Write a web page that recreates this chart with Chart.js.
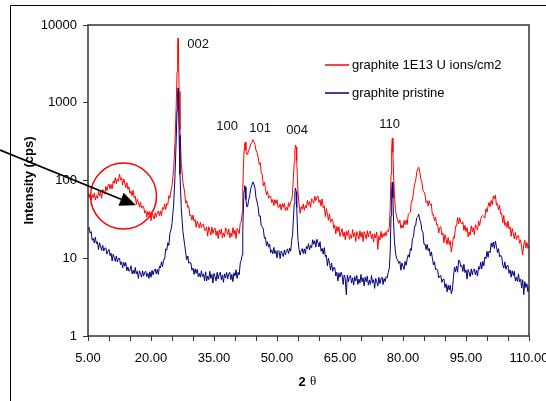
<!DOCTYPE html>
<html>
<head>
<meta charset="utf-8">
<script src="https://cdn.jsdelivr.net/npm/chart.js@4.4.1/dist/chart.umd.min.js"></script>
<style>
  html, body { margin: 0; padding: 0; background: #fff; }
  #wrap { width: 546px; height: 401px; position: relative; }
</style>
</head>
<body>
<div id="wrap"><canvas id="xrd"></canvas></div>
<script>
// 2 theta (deg), finer steps around the sharp peaks
const twoTheta = [
  5.0, 5.25, 5.5, 5.75, 6.0, 6.25, 6.5, 6.75, 7.0, 7.25, 7.5, 7.75, 8.0, 8.25, 8.5, 8.75, 9.0, 9.25, 9.5, 9.75,
  10.0, 10.25, 10.5, 10.75, 11.0, 11.25, 11.5, 11.75, 12.0, 12.25, 12.5, 12.75, 13.0, 13.25, 13.5, 13.75, 14.0, 14.25, 14.5, 14.75,
  15.0, 15.25, 15.5, 15.75, 16.0, 16.25, 16.5, 16.75, 17.0, 17.25, 17.5, 17.75, 18.0, 18.25, 18.5, 18.75, 19.0, 19.25, 19.5, 19.75,
  20.0, 20.25, 20.5, 20.75, 21.0, 21.25, 21.5, 21.75, 22.0, 22.25, 22.5, 22.75, 23.0, 23.25, 23.5, 23.75, 24.0, 24.25, 24.5, 24.75,
  25.0,
  25.4, 25.7, 26.0, 26.2, 26.35, 26.45, 26.55, 26.7, 26.9, 27.2, 27.6,
  28.0, 28.25, 28.5, 28.75, 29.0, 29.25, 29.5, 29.75, 30.0, 30.25, 30.5, 30.75, 31.0, 31.25, 31.5, 31.75, 32.0, 32.25, 32.5, 32.75,
  33.0, 33.25, 33.5, 33.75, 34.0, 34.25, 34.5, 34.75, 35.0, 35.25, 35.5, 35.75, 36.0, 36.25, 36.5, 36.75, 37.0, 37.25, 37.5, 37.75,
  38.0, 38.25, 38.5, 38.75, 39.0, 39.25, 39.5, 39.75, 40.0, 40.25, 40.5, 40.75, 41.0, 41.25, 41.5,
  41.7, 41.85, 42.0, 42.15, 42.3, 42.45, 42.6, 42.8, 43.0, 43.25, 43.5, 43.75, 44.0, 44.25, 44.5, 44.75, 45.0, 45.25,
  45.5, 45.75, 46.0, 46.25, 46.5, 46.75, 47.0, 47.25, 47.5, 47.75, 48.0, 48.25, 48.5, 48.75, 49.0, 49.25, 49.5, 49.75, 50.0, 50.25,
  50.5, 50.75, 51.0, 51.25, 51.5, 51.75, 52.0, 52.25, 52.5, 52.75, 53.0, 53.25, 53.5,
  53.7, 53.9, 54.1, 54.25, 54.4, 54.55, 54.7, 54.85, 55.0, 55.25,
  55.5, 55.75, 56.0, 56.25, 56.5, 56.75, 57.0, 57.25, 57.5, 57.75, 58.0, 58.25, 58.5, 58.75, 59.0, 59.25, 59.5, 59.75, 60.0, 60.25,
  60.5, 60.75, 61.0, 61.25, 61.5, 61.75, 62.0, 62.25, 62.5, 62.75, 63.0, 63.25, 63.5, 63.75, 64.0, 64.25, 64.5, 64.75, 65.0, 65.25,
  65.5, 65.75, 66.0, 66.25, 66.5, 66.75, 67.0, 67.25, 67.5, 67.75, 68.0, 68.25, 68.5, 68.75, 69.0, 69.25, 69.5, 69.75, 70.0, 70.25,
  70.5, 70.75, 71.0, 71.25, 71.5, 71.75, 72.0, 72.25, 72.5, 72.75, 73.0, 73.25, 73.5, 73.75, 74.0, 74.25, 74.5, 74.75, 75.0, 75.25,
  75.5, 75.75, 76.0, 76.25, 76.5,
  76.75, 76.95, 77.15, 77.3, 77.45, 77.6, 77.75, 77.95, 78.2, 78.45, 78.7,
  79.0, 79.25, 79.5, 79.75, 80.0, 80.25, 80.5, 80.75, 81.0, 81.25, 81.5, 81.75, 82.0, 82.25, 82.5, 82.75, 83.0, 83.25, 83.5, 83.75,
  84.0, 84.25, 84.5, 84.75, 85.0, 85.25, 85.5, 85.75, 86.0, 86.25, 86.5, 86.75, 87.0, 87.25, 87.5, 87.75, 88.0, 88.25, 88.5, 88.75,
  89.0, 89.25, 89.5, 89.75, 90.0, 90.25, 90.5, 90.75, 91.0, 91.25, 91.5, 91.75, 92.0, 92.25, 92.5, 92.75, 93.0, 93.25, 93.5, 93.75,
  94.0, 94.25, 94.5, 94.75, 95.0, 95.25, 95.5, 95.75, 96.0, 96.25, 96.5, 96.75, 97.0, 97.25, 97.5, 97.75, 98.0, 98.25, 98.5, 98.75,
  99.0, 99.25, 99.5, 99.75, 100.0, 100.25, 100.5, 100.75, 101.0, 101.25, 101.5, 101.75, 102.0, 102.25, 102.5, 102.75, 103.0, 103.25, 103.5, 103.75,
  104.0, 104.25, 104.5, 104.75, 105.0, 105.25, 105.5, 105.75, 106.0, 106.25, 106.5, 106.75, 107.0, 107.25, 107.5, 107.75, 108.0, 108.25, 108.5, 108.75,
  109.0, 109.25, 109.5, 109.75, 110.0
];

// intensity (cps), irradiated sample
const irradiated = [
  72, 60, 67, 56, 66, 60, 69, 56, 64, 59, 73, 63, 71, 59, 77, 72, 67, 84, 74, 85,
  90, 78, 89, 78, 98, 92, 109, 91, 105, 98, 121, 102, 109, 87, 105, 93, 81, 94, 77, 83,
  68, 73, 63, 75, 60, 63, 49, 58, 52, 45.5, 53, 44, 47, 46, 38, 41, 34, 40, 36, 40,
  30.5, 38, 35, 32, 38.5, 33.7, 38, 40.7, 35.3, 40.6, 35.2, 45, 42.7, 50, 42.3, 50.5, 48.8, 64, 59.5, 73.5,
  85,
  140, 300, 900, 2500, 5000, 6800, 4000, 1400, 450, 170, 95,
  71, 51, 55, 45, 47, 35, 36, 31, 36, 30, 31.5, 25, 30, 27.5, 24.6, 29, 24.7, 27, 27.5, 22.8,
  22.8, 25.2, 19.2, 25.4, 22.8, 19.8, 25.2, 20.7, 23.7, 24.5, 19.6, 22.5, 17.9, 23.1, 20.3, 23.9, 18.3, 21.2, 18.9, 24.6,
  22.9, 20.2, 23.9, 18.3, 21.2, 18.9, 24.8, 20.3, 23, 17.9, 24.2, 22.5, 20.7, 28, 30,
  38, 78, 138, 245, 295, 312, 245, 218, 216, 245, 260, 295, 305, 335, 318, 292, 245, 228,
  202, 161, 170, 125, 119, 85, 95, 79, 65.5, 72.6, 59, 62.5, 62.7, 52, 57, 47.5, 56.7, 50.4, 56.6, 45,
  45.6, 49.9, 41.8, 50.3, 45.1, 51, 41, 45.5, 41.4, 52, 46, 53.5, 55,
  70, 110, 170, 240, 285, 270, 180, 110, 70, 50,
  37.8, 46, 42.7, 50, 41.4, 47.5, 44.2, 55.4, 48, 53.6, 45.2, 58.3, 55, 51, 62.7, 55.1, 61.5, 63.3, 52.1, 56.2,
  46.8, 57.9, 44.7, 47.4, 34.4, 43.5, 37, 30.8, 37.3, 29, 31.9, 31.6, 24.3, 26.8, 20.6, 25.7, 22.1, 25.5, 19.1, 21.8,
  24.1, 19.1, 21.8, 17.3, 22.2, 19.5, 23, 17.5, 20.2, 18, 23.4, 19, 21.3, 16.4, 22, 20, 17.6, 22.6, 18.7, 21.6,
  16.4, 22, 20, 17.6, 22.6, 18.7, 21.6, 22.4, 17.8, 20.4, 16.1, 20.7, 18.2, 21.7, 13, 19.2, 17.1, 22.2, 18.2, 20.7,
  19.1, 21.5, 19.5, 22.8, 22,
  25, 45, 120, 260, 350, 230, 120, 65, 42, 35, 31,
  28.1, 31.1, 24.3, 26.8, 24.4, 30.5, 26.9, 31, 27.1, 36.7, 38, 39.1, 55, 55.1, 72, 90, 98, 125, 140, 148,
  130, 104, 96, 74, 71, 66, 52, 55, 47, 55, 48.5, 50, 36, 36.4, 30.4, 33.9, 26.9, 27.3, 21.1, 24.8,
  25.5, 20, 21.2, 15.8, 20.1, 17.6, 15.1, 18.5, 15, 16.8, 12, 14.7, 18.9, 18.1, 25.9, 25.9, 33.3, 27.7, 33.3, 28.8,
  27.6, 29.4, 22.8, 26.5, 22.1, 24.9, 18.9, 21.7, 19.8, 26.1, 21.9, 24.9, 19.9, 27, 25, 23.1, 30.2, 26.3, 31.6, 34.7,
  35.4, 34.5, 32.9, 43.3, 39.2, 46.9, 52.2, 46, 55.4, 48.7, 63.4, 57.9, 65, 48.1, 50.5, 41.9, 47.9, 37.2, 38, 28.5,
  35.6, 26.4, 28.8, 24.8, 30.2, 23.8, 25.4, 19.1, 24.2, 21, 17.8, 21.5, 17.4, 19.3, 19.6, 15.6, 17.3, 13.9, 11, 15.1,
  17, 13.6, 16, 13.4, 14.8
];

// intensity (cps), pristine sample
const pristine = [
  24, 25, 21, 22, 17, 18, 15.8, 18.6, 15.4, 16.3, 12.9, 15.8, 14.2, 12.6, 14.7, 12.4, 13.5, 13.6, 11.3, 12.3,
  13, 10.8, 11.6, 9.2, 11.3, 10.2, 9.1, 10.7, 9.0, 9.9, 10, 8.3, 9.0, 7.5, 8.9, 7.9, 8.8, 6.9, 7.7, 6.8,
  7.1, 8.0, 6.3, 7.0, 6.3, 7.6, 6.3, 6.8, 5.5, 6.9, 6.35, 5.7, 6.9, 5.9, 6.6, 6.8, 5.8, 6.4, 5.5, 6.7,
  5.7, 7.0, 6.1, 6.9, 7.3, 6.3, 7.2, 6.2, 7.9, 7.5, 9.0, 7.8, 9.6, 9.7, 13.2, 12.7, 15.8, 14.6, 21, 23,
  28,
  50, 110, 330, 800, 1300, 1550, 1000, 380, 120, 45, 22,
  15.1, 12, 9.6, 10.7, 8.6, 8.9, 8.7, 7.0, 7.5, 6.2, 7.3, 6.4, 7.2, 5.8, 6.4, 5.7, 6.9, 5.8, 6.3, 5.1,
  6.7, 5.1, 5.9, 5.3, 6.8, 5.5, 6.2, 4.8, 6.4, 5.8, 5.1, 6.6, 5.4, 6.3, 6.6, 5.3, 6.1, 4.9, 6.3, 5.6,
  6.6, 5.4, 6.3, 6.6, 5.3, 6.2, 5.0, 6.5, 5.9, 7.1, 5.5, 6.6, 6.1, 8.7, 9.5,
  11, 23, 44, 73, 86, 82, 57, 46, 46, 56, 64, 79, 86, 96, 90, 80, 60, 53,
  46, 34.6, 35.2, 26.1, 25.4, 23.7, 18.1, 18.5, 14.4, 16.3, 13.9, 15.1, 11.8, 12.8, 11.4, 13.8, 11.5, 12.5, 10.1, 12.6,
  12.2, 9.9, 12.4, 11.5, 10.5, 12.8, 11.1, 12.5, 13.2, 11.5, 13.5, 12.3, 17,
  20, 32, 50, 70, 80, 72, 45, 26, 17, 13,
  11, 12.5, 13.3, 11.5, 13.2, 11.4, 14.2, 13.2, 15.4, 12.8, 14.6, 13.7, 17.3, 15.1, 16.8, 13.9, 17.5, 15.9, 14, 16.3,
  12.3, 13.4, 11.3, 13.7, 10.5, 11, 8, 10, 8.6, 7.1, 8.7, 6.8, 7.6, 7.6, 5.9, 6.6, 5.1, 6.5, 5.7, 6.6,
  6.1, 4.6, 6.1, 5.5, 3.4, 6.1, 5.0, 5.8, 6.0, 4.8, 5.6, 4.5, 5.8, 5.1, 6.0, 4.6, 5.4, 4.8, 6.2, 5.0,
  5.6, 4.4, 5.7, 5.0, 5.9, 4.5, 5.2, 4.6, 6.0, 4.8, 5.3, 4.1, 5.5, 5.0, 4.4, 5.7, 4.7, 5.4, 5.7, 4.6,
  5.5, 5.0, 5.8, 5.6, 6.6,
  7.5, 12, 35, 75, 95, 60, 30, 17, 12, 10, 9.5,
  8.6, 9.1, 7.0, 8.7, 7.9, 7.2, 9.1, 8.1, 9.8, 11.1, 10.3, 13.3, 12.6, 18.1, 18.8, 25.8, 26, 33, 34, 37,
  31, 29, 22.8, 21.6, 15.1, 15.2, 12.9, 15.1, 12.5, 13.4, 10.7, 12.1, 10, 8.2, 9.0, 7.1, 7.3, 7.0, 5.6, 5.9,
  6.0, 4.9, 5.35, 5.4, 4.2, 4.7, 3.7, 4.5, 3.9, 4.5, 3.5, 3.9, 5.6, 7.7, 6.7, 7.9, 6.6, 9.5, 9.2, 7.8,
  8.1, 6.75, 8.35, 6.55, 7.1, 5.4, 7.15, 6.5, 5.8, 7.3, 6.1, 7.0, 7.3, 6.1, 7.0, 5.9, 7.8, 7.2, 8.9, 7.3,
  9.1, 8.0, 10.4, 9.9, 12.3, 10.3, 12.4, 11.8, 15.7, 13.9, 16.2, 13.4, 16.6, 14.2, 11.8, 13.3, 10.4, 10.9, 10.5, 8.2,
  7.5, 9.0, 7.2, 8.0, 8.1, 6.4, 7.1, 5.7, 6.9, 6.0, 6.8, 5.1, 5.7, 5.0, 6.3, 5.0, 5.4, 4.15, 5.3, 3.4,
  5.0, 4.2, 4.7, 3.7, 4.3
];

const seriesNames = ['graphite 1E13 U ions/cm2', 'graphite pristine'];
const yTicks = [1, 10, 100, 1000, 10000];
const xLabelTicks = [5, 20, 35, 50, 65, 80, 95, 110];
const peakNames = ['002', '100', '101', '004', '110'];
const peakLabelTheta = [31.2, 38.1, 46.0, 54.8, 76.8];
const peakLabelCps = [5700, 490, 470, 445, 520];
// the amorphous hump that is circled
const humpTheta = 13.45, humpCps = 63;
const arrowTipTheta = 16.4, arrowTipCps = 48;

Chart.defaults.font.family = "'Liberation Sans', Arial, sans-serif";
Chart.defaults.font.size = 13;
Chart.defaults.color = '#000';

const toPoints = ys => twoTheta.map((t, i) => ({ x: t, y: ys[i] }));

const extras = {
  id: 'extras',
  afterDraw(chart) {
    const { ctx, chartArea: a } = chart;
    const x = chart.scales.x, y = chart.scales.y;
    ctx.save();

    // outer frame
    ctx.strokeStyle = '#000';
    ctx.lineWidth = 1;
    ctx.beginPath();
    ctx.moveTo(10.5, 401);
    ctx.lineTo(10.5, 5.5);
    ctx.lineTo(546, 5.5);
    ctx.stroke();

    // plot box
    ctx.strokeStyle = '#333';
    ctx.lineWidth = 1.5;
    ctx.strokeRect(a.left, a.top, a.right - a.left, a.bottom - a.top);

    // peak labels
    ctx.fillStyle = '#111';
    ctx.font = "13px 'Liberation Sans', Arial";
    ctx.textAlign = 'center';
    ctx.textBaseline = 'middle';
    peakNames.forEach((n, i) => {
      ctx.fillText(n, x.getPixelForValue(peakLabelTheta[i]), y.getPixelForValue(peakLabelCps[i]));
    });

    // legend
    ctx.textAlign = 'left';
    chart.data.datasets.forEach((ds, i) => {
      const ly = 65 + i * 28;
      ctx.strokeStyle = ds.borderColor;
      ctx.lineWidth = 1.5;
      ctx.beginPath();
      ctx.moveTo(325, ly);
      ctx.lineTo(349, ly);
      ctx.stroke();
      ctx.fillStyle = '#000';
      ctx.fillText(ds.label, 352, ly);
    });

    // circle around the hump
    ctx.strokeStyle = '#ff0000';
    ctx.lineWidth = 1.5;
    ctx.beginPath();
    ctx.arc(x.getPixelForValue(humpTheta), y.getPixelForValue(humpCps), 33, 0, Math.PI * 2);
    ctx.stroke();

    // arrow
    const tx = x.getPixelForValue(arrowTipTheta), ty = y.getPixelForValue(arrowTipCps);
    const sx = 0, sy = 150;
    const len = Math.hypot(tx - sx, ty - sy);
    const ux = (tx - sx) / len, uy = (ty - sy) / len;
    const hl = 16, hw = 7;
    ctx.strokeStyle = '#000';
    ctx.lineWidth = 1.8;
    ctx.beginPath();
    ctx.moveTo(sx, sy);
    ctx.lineTo(tx - ux * hl, ty - uy * hl);
    ctx.stroke();
    ctx.fillStyle = '#000';
    ctx.beginPath();
    ctx.moveTo(tx, ty);
    ctx.lineTo(tx - ux * hl - uy * hw, ty - uy * hl + ux * hw);
    ctx.lineTo(tx - ux * hl + uy * hw, ty - uy * hl - ux * hw);
    ctx.closePath();
    ctx.fill();

    // x title "2 θ"
    ctx.fillStyle = '#000';
    ctx.textAlign = 'center';
    ctx.font = "bold 13px 'Liberation Sans', Arial";
    ctx.fillText('2', 302, 382);
    ctx.font = "13px 'Liberation Serif', serif";
    ctx.fillText('θ', 313, 382);

    ctx.restore();
  }
};

new Chart(document.getElementById('xrd'), {
  type: 'line',
  data: {
    datasets: [
      { label: seriesNames[0], data: toPoints(irradiated), borderColor: '#ff0000', borderWidth: 1, pointRadius: 0, order: 2 },
      { label: seriesNames[1], data: toPoints(pristine), borderColor: '#000080', borderWidth: 1, pointRadius: 0, order: 1 }
    ]
  },
  options: {
    responsive: true,
    maintainAspectRatio: false,
    animation: false,
    layout: { padding: { top: 25, right: 17, left: 0, bottom: 0 } },
    plugins: { legend: { display: false }, tooltip: { enabled: false } },
    scales: {
      x: {
        type: 'linear',
        min: 5,
        max: 110,
        border: { display: false },
        grid: { drawOnChartArea: false, drawTicks: true, tickLength: 5, color: '#333' },
        ticks: {
          stepSize: 5,
          autoSkip: false,
          maxRotation: 0,
          padding: 10,
          callback: v => xLabelTicks.includes(v) ? v.toFixed(2) : ''
        },
        afterFit: s => { s.height = 65; s.paddingLeft = 0; s.paddingRight = 0; }
      },
      y: {
        type: 'logarithmic',
        min: 1,
        max: 10000,
        border: { display: false },
        grid: { drawOnChartArea: false, tickLength: 5, color: '#333' },
        ticks: { padding: 6, callback: v => String(v) },
        afterBuildTicks: s => { s.ticks = yTicks.map(v => ({ value: v })); },
        title: { display: true, text: 'Intensity (cps)', font: { weight: 'bold', size: 13 }, padding: { top: 22 } },
        afterFit: s => { s.width = 88; s.paddingTop = 0; s.paddingBottom = 0; }
      }
    }
  },
  plugins: [extras]
});
</script>
</body>
</html>
